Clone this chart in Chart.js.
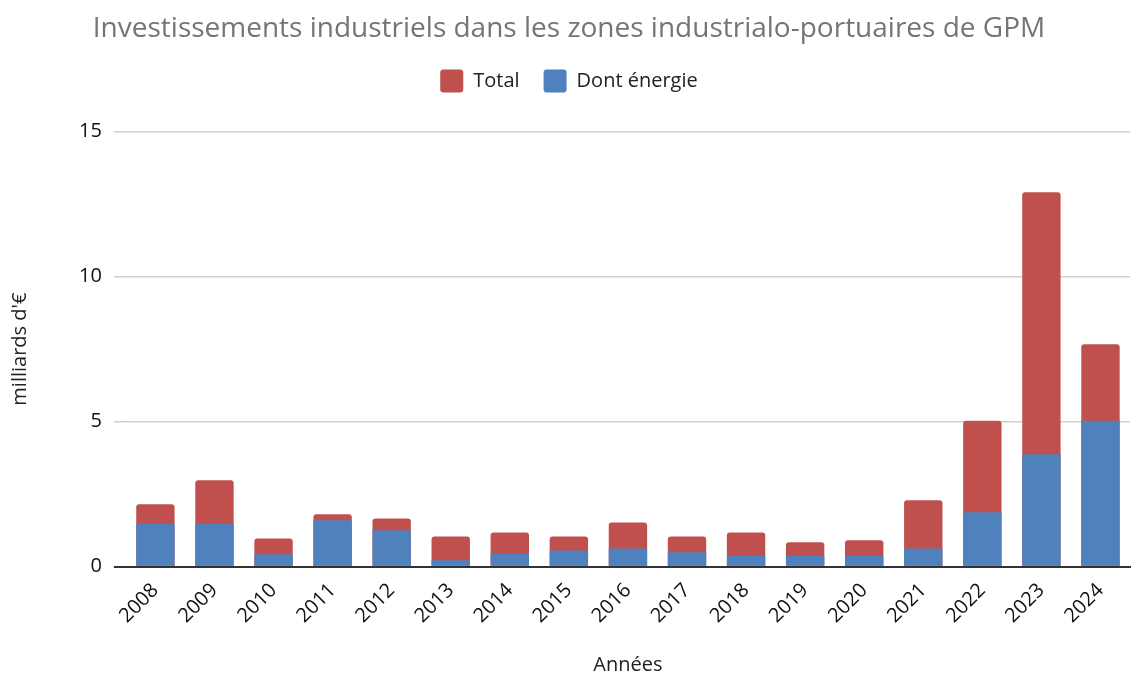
<!DOCTYPE html>
<html lang="fr">
<head>
<meta charset="utf-8">
<title>Investissements industriels GPM</title>
<script src="https://cdn.jsdelivr.net/npm/chart.js@4.4.1/dist/chart.umd.min.js"></script>
<style>
  html, body { margin:0; padding:0; background:#fff; }
  #wrap { width:1132px; height:677px; }
</style>
</head>
<body>
<div id="wrap"><canvas id="gpmChart" width="1132" height="677"></canvas></div>
<script>
/* data (milliards d'€) */
const years     = ['2008','2009','2010','2011','2012','2013','2014','2015','2016','2017','2018','2019','2020','2021','2022','2023','2024'];
const totalVals = [2.15, 2.98, 0.97, 1.81, 1.66, 1.04, 1.18, 1.04, 1.52, 1.04, 1.18, 0.84, 0.91, 2.29, 5.03, 12.91, 7.67];
const energyVals= [1.47, 1.47, 0.43, 1.60, 1.26, 0.22, 0.44, 0.56, 0.63, 0.50, 0.37, 0.37, 0.37, 0.63, 1.88, 3.88, 5.03];
const yTicks    = [0, 5, 10, 15];

const FONT = "'Open Sans', 'DejaVu Sans', sans-serif";
const RED  = '#C0504D';
const BLUE = '#4F81BD';

/* extra room under the legend, before the plot */
const legendGap = {
    id: 'legendGap',
    beforeInit(chart) {
        const fit = chart.legend.fit;
        chart.legend.fit = function () { fit.bind(chart.legend)(); this.height += 29; };
    }
};

new Chart(document.getElementById('gpmChart').getContext('2d'), {
    type: 'bar',
    data: {
        labels: years,
        datasets: [
            { label:'Total',        data:totalVals,  backgroundColor:RED,  borderRadius:{topLeft:3, topRight:3}, order:1 },
            { label:'Dont énergie', data:energyVals, backgroundColor:BLUE, borderRadius:0, order:0 }
        ]
    },
    plugins: [legendGap],
    options: {
        responsive: false,
        animation: false,
        layout: { padding:{ top:7, right:2, bottom:0, left:8 } },
        datasets: { bar: { categoryPercentage:0.65, barPercentage:1 } },
        plugins: {
            title: {
                display: true,
                text: 'Investissements industriels dans les zones industrialo-portuaires de GPM',
                color: '#757575',
                font: { family:FONT, size:28, weight:'normal' },
                padding: { top:5, bottom:0 }
            },
            legend: {
                position: 'top',
                labels: {
                    color: '#222',
                    font: { family:FONT, size:20 },
                    boxWidth: 23, boxHeight: 23,
                    padding: 24,
                    useBorderRadius: true, borderRadius: 3,
                    sort: (a, b) => a.datasetIndex - b.datasetIndex
                }
            },
            tooltip: { enabled:false }
        },
        scales: {
            x: {
                stacked: true,
                grid: { display:false },
                border: { color:'#333', width:2 },
                ticks: { color:'#111', font:{ family:FONT, size:20 }, minRotation:45, maxRotation:45, padding:4 },
                title: { display:true, text:'Années', color:'#222', font:{ family:FONT, size:20 }, padding:{ top:21, bottom:0 } }
            },
            y: {
                stacked: false,
                min: 0, max: 15,
                afterBuildTicks: s => { s.ticks = yTicks.map(v => ({ value:v })); },
                grid: {
                    color: c => (c.tick && c.tick.value === 0) ? '#333' : '#d0d0d0',
                    lineWidth: c => (c.tick && c.tick.value === 0) ? 2 : 1.5,
                    drawTicks: true, tickLength: 12
                },
                border: { display:false },
                ticks: { color:'#111', font:{ family:FONT, size:20 }, padding:12 },
                title: { display:true, text:"milliards d'€", color:'#222', font:{ family:FONT, size:20 }, padding:{ top:0, bottom:35 } }
            }
        }
    }
});
</script>
</body>
</html>
